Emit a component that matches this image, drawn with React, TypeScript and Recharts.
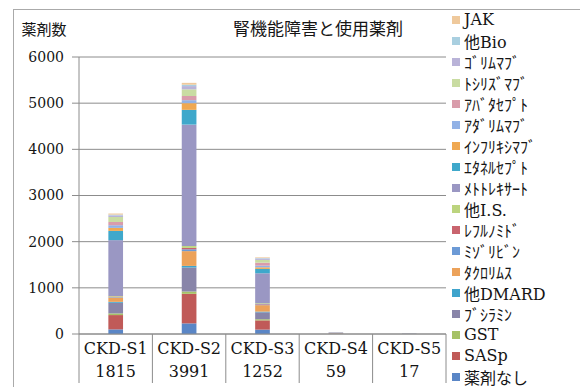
import { BarChart, Bar, XAxis, YAxis, CartesianGrid, Legend } from 'recharts';

const categories = ['CKD-S1', 'CKD-S2', 'CKD-S3', 'CKD-S4', 'CKD-S5'];
const patientCounts = [1815, 3991, 1252, 59, 17];
const yTicks = [0, 1000, 2000, 3000, 4000, 5000, 6000];

// drug counts per CKD stage, listed from the bottom of the stack upwards
const noDrug = [100, 230, 95, 6, 4];
const sasp = [310, 640, 200, 5, 1];
const gst = [36, 50, 25, 1, 0];
const bucillamine = [230, 520, 150, 3, 1];
const otherDmard = [20, 35, 15, 1, 0];
const tacrolimus = [95, 320, 140, 4, 2];
const mizoribine = [10, 40, 15, 1, 0];
const leflunomide = [10, 30, 10, 0, 0];
const otherIs = [12, 40, 15, 1, 0];
const methotrexate = [1210, 2630, 650, 10, 2];
const etanercept = [200, 320, 95, 2, 1];
const infliximab = [65, 145, 35, 1, 0];
const adalimumab = [58, 65, 35, 1, 0];
const abatacept = [70, 90, 65, 2, 0];
const tocilizumab = [108, 145, 60, 1, 0];
const golimumab = [36, 70, 30, 0, 0];
const otherBio = [15, 30, 10, 0, 0];
const jak = [25, 40, 15, 1, 0];

const drugNames = [
  '薬剤なし', 'SASp', 'GST', 'ﾌﾞｼﾗﾐﾝ', '他DMARD', 'ﾀｸﾛﾘﾑｽ', 'ﾐｿﾞﾘﾋﾞﾝ', 'ﾚﾌﾙﾉﾐﾄﾞ', '他I.S.',
  'ﾒﾄﾄﾚｷｻｰﾄ', 'ｴﾀﾈﾙｾﾌﾟﾄ', 'ｲﾝﾌﾘｷｼﾏﾌﾞ', 'ｱﾀﾞﾘﾑﾏﾌﾞ', 'ｱﾊﾞﾀｾﾌﾟﾄ', 'ﾄｼﾘｽﾞﾏﾌﾞ', 'ｺﾞﾘﾑﾏﾌﾞ', '他Bio', 'JAK',
];
const drugValues = [
  noDrug, sasp, gst, bucillamine, otherDmard, tacrolimus, mizoribine, leflunomide, otherIs,
  methotrexate, etanercept, infliximab, adalimumab, abatacept, tocilizumab, golimumab, otherBio, jak,
];
const drugColors = [
  '#5a86c6', '#c05a58', '#a6c266', '#8985a9', '#3fa4cc', '#eca25a', '#6c9ad6', '#c9646e', '#bcd47e',
  '#9a97c3', '#3fa8cb', '#efa852', '#92b2e6', '#d99cab', '#c9dca2', '#b9b3d8', '#a9cfe0', '#efc99c',
];

const data = categories.map((stage, i) => {
  const row: Record<string, string | number> = { stage };
  drugNames.forEach((name, d) => {
    row[name] = drugValues[d][i];
  });
  return row;
});

const countByStage: Record<string, number> = {};
categories.forEach((c, i) => (countByStage[c] = patientCounts[i]));

const PLOT_LEFT = 79;
const PLOT_RIGHT = 446;
const BAND = (PLOT_RIGHT - PLOT_LEFT) / categories.length;
const SERIF = '"DejaVu Serif", "Noto Sans CJK JP", serif';
const GRID = '#8c8c8c';

function StageTick({ x, y, payload, index }: any) {
  const half = BAND / 2;
  return (
    <g>
      {index === 0 && <line x1={x - half} x2={x - half} y1={y} y2={y + 49} stroke={GRID} />}
      <line x1={x + half} x2={x + half} y1={y} y2={y + 49} stroke={GRID} />
      <text x={x} y={y + 20} textAnchor="middle" fontSize={16} fontFamily={SERIF} fill="#151515">
        {payload.value}
      </text>
      <text x={x} y={y + 43} textAnchor="middle" fontSize={16} fontFamily={SERIF} fill="#151515">
        {countByStage[payload.value]}
      </text>
    </g>
  );
}

// legend reads top-down in reverse stack order (JAK first, 薬剤なし last)
function DrugLegend() {
  const order = drugNames.map((_, d) => d).reverse();
  return (
    <div style={{ fontFamily: SERIF, color: '#151515' }}>
      {order.map((d) => (
        <div key={drugNames[d]} style={{ display: 'flex', alignItems: 'center', height: 21, fontSize: 16, whiteSpace: 'nowrap' }}>
          <span style={{ width: 8, height: 8, background: drugColors[d], marginRight: 4, flex: 'none' }} />
          <span>{drugNames[d]}</span>
        </div>
      ))}
    </div>
  );
}

export default function App() {
  return (
    <div style={{ position: 'relative', width: 580, height: 387, background: '#fff', overflow: 'hidden' }}>
      <style>{'body { margin: 0; }'}</style>
      <div
        style={{
          position: 'absolute', left: 13, top: 9, right: 0, bottom: 0,
          borderLeft: '1px solid #aaa', borderTop: '1px solid #aaa',
        }}
      />
      <div
        style={{
          position: 'absolute', left: 200, width: 236, top: 15, textAlign: 'center',
          fontFamily: '"Noto Sans CJK JP", sans-serif', fontSize: 17, color: '#151515',
        }}
      >
        腎機能障害と使用薬剤
      </div>
      <BarChart
        width={580}
        height={387}
        data={data}
        margin={{ top: 57, right: 580 - PLOT_RIGHT, bottom: 5, left: PLOT_LEFT - 60 }}
        barCategoryGap="60%"
      >
        <CartesianGrid vertical={false} stroke={GRID} />
        <XAxis
          dataKey="stage"
          height={48}
          stroke={GRID}
          tickLine={false}
          tickSize={0}
          tickMargin={0}
          interval={0}
          tick={<StageTick />}
        />
        <YAxis
          width={60}
          domain={[0, 6000]}
          ticks={yTicks}
          stroke={GRID}
          tickSize={7}
          tickMargin={8}
          tick={{ fontSize: 14, fontFamily: SERIF, fill: '#151515' }}
          label={{
            value: '薬剤数', position: 'top', offset: 22, dx: -5,
            style: { fontSize: 15, fontFamily: '"Noto Sans CJK JP", sans-serif', fill: '#151515' },
          }}
        />
        <Legend
          layout="vertical"
          align="center"
          verticalAlign="middle"
          wrapperStyle={{ left: 452, top: 9, width: 128 }}
          content={<DrugLegend />}
        />
        {drugNames.map((name, d) => (
          <Bar key={name} dataKey={name} stackId="drugs" fill={drugColors[d]} isAnimationActive={false} />
        ))}
      </BarChart>
    </div>
  );
}
